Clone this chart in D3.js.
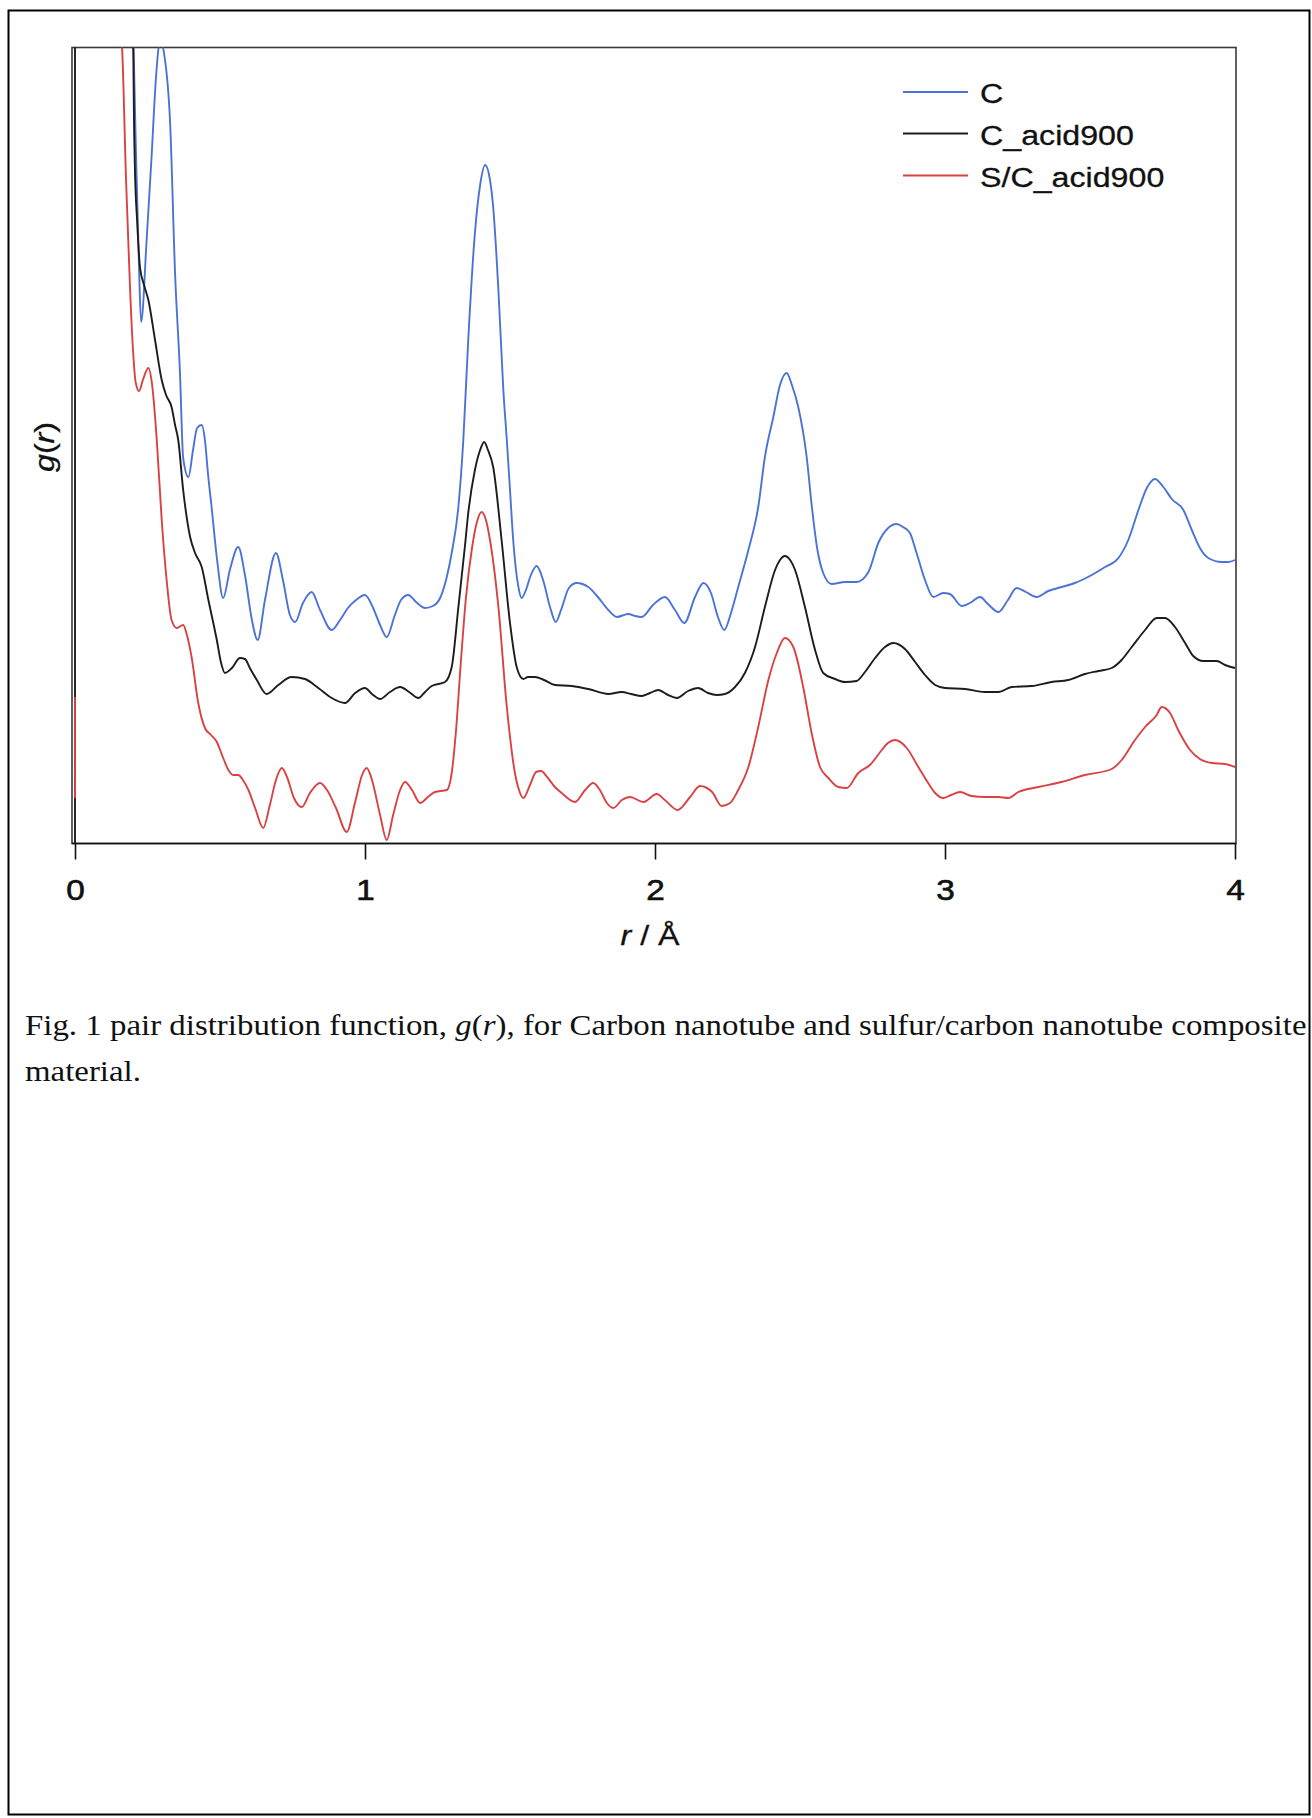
<!DOCTYPE html>
<html><head><meta charset="utf-8">
<script src="https://cdn.jsdelivr.net/npm/d3@7"></script>
<style>html,body{margin:0;padding:0;background:#fff;} svg{display:block;}</style>
</head><body>
<svg id="chart" width="1312" height="1818"></svg>
<script>
// ---- data ----
const tickValues = [0, 1, 2, 3, 4];
const seriesNames = ["C", "C_acid900", "S/C_acid900"];
const seriesColors = ["#4a72d8", "#1c1c1c", "#d94242"];

// C (blue)
const rC = [0.200,0.210,0.221,0.228,0.247,0.264,0.278,0.288,0.297,0.304,
0.328,0.345,0.362,0.373,0.391,0.407,0.421,0.437,0.448,0.459,
0.471,0.490,0.511,0.534,0.563,0.586,0.610,0.630,0.655,0.693,
0.717,0.741,0.759,0.786,0.816,0.845,0.885,0.914,0.941,0.969,
1.000,1.028,1.052,1.075,1.103,1.124,1.149,1.176,1.207,1.234,
1.259,1.282,1.299,1.322,1.339,1.356,1.379,1.397,1.414,1.431,
1.442,1.460,1.477,1.489,1.500,1.511,1.529,1.540,1.555,1.572,
1.592,1.614,1.638,1.658,1.676,1.703,1.730,1.770,1.803,1.839,
1.868,1.908,1.931,1.954,1.993,2.034,2.069,2.101,2.138,2.167,
2.193,2.217,2.239,2.262,2.287,2.322,2.356,2.379,2.408,2.431,
2.454,2.472,2.494,2.523,2.541,2.559,2.580,2.609,2.655,2.695,
2.736,2.770,2.804,2.833,2.855,2.879,2.902,2.931,2.960,2.994,
3.017,3.058,3.086,3.121,3.148,3.184,3.217,3.247,3.279,3.316,
3.356,3.402,3.448,3.506,3.552,3.598,3.632,3.667,3.696,3.724,
3.753,3.782,3.822,3.851,3.879,3.908,3.954,3.976,4.000];
const gC = [8.23,6.93,5.73,5.21,6.03,6.86,7.60,7.95,8.05,7.95,
7.20,5.70,4.70,3.85,3.66,3.93,4.15,4.18,4.03,3.68,
3.36,2.83,2.45,2.73,2.96,2.68,2.23,2.03,2.43,2.90,
2.63,2.28,2.21,2.40,2.51,2.33,2.13,2.23,2.35,2.43,
2.48,2.35,2.18,2.06,2.28,2.43,2.48,2.41,2.35,2.37,
2.45,2.66,2.90,3.36,4.03,5.03,6.10,6.58,6.78,6.63,
6.36,5.53,4.53,4.03,3.53,3.03,2.56,2.45,2.53,2.68,
2.77,2.63,2.36,2.21,2.33,2.55,2.60,2.56,2.46,2.33,
2.26,2.29,2.27,2.26,2.38,2.46,2.33,2.20,2.46,2.60,
2.50,2.26,2.13,2.30,2.56,2.93,3.36,3.86,4.26,4.58,
4.70,4.58,4.36,3.86,3.36,2.95,2.70,2.59,2.61,2.61,
2.71,3.00,3.15,3.19,3.16,3.10,2.90,2.63,2.46,2.50,
2.49,2.37,2.40,2.46,2.39,2.31,2.43,2.55,2.51,2.46,
2.52,2.56,2.60,2.68,2.76,2.85,3.03,3.33,3.55,3.64,
3.56,3.44,3.33,3.13,2.95,2.85,2.81,2.81,2.83];

// C_acid900 (black) — null marks a gap in the record
const rCa = [0, 0, null,
0.193,0.201,0.203,0.207,0.214,0.224,0.238,0.253,0.276,0.299,
0.314,0.333,0.345,0.356,0.373,0.397,0.414,0.437,0.460,0.489,
0.503,0.517,0.541,0.569,0.586,0.603,0.627,0.661,0.701,0.747,
0.793,0.839,0.885,0.931,0.966,1.000,1.024,1.052,1.086,1.121,
1.152,1.184,1.207,1.230,1.276,1.299,1.322,1.345,1.356,1.379,
1.397,1.411,1.424,1.442,1.471,1.500,1.523,1.546,1.562,1.586,
1.617,1.655,1.713,1.770,1.839,1.885,1.917,1.954,1.983,2.011,
2.045,2.075,2.114,2.149,2.183,2.213,2.241,2.276,2.310,2.345,
2.379,2.414,2.431,2.448,2.466,2.483,2.517,2.552,2.580,2.621,
2.655,2.695,2.724,2.759,2.793,2.822,2.862,2.897,2.931,2.966,
3.000,3.069,3.138,3.184,3.230,3.299,3.368,3.425,3.483,3.529,
3.575,3.609,3.644,3.690,3.730,3.759,3.793,3.828,3.856,3.891,
3.937,3.966,4.000];
const gCa = [0, 8.3, null,
8.23,7.91,7.33,6.70,6.23,5.76,5.58,5.43,5.03,4.63,
4.48,4.36,4.18,4.03,3.53,3.06,2.90,2.76,2.43,2.03,
1.81,1.70,1.75,1.85,1.84,1.75,1.63,1.49,1.58,1.66,
1.64,1.55,1.45,1.40,1.50,1.55,1.49,1.44,1.51,1.56,
1.51,1.45,1.51,1.57,1.61,1.76,2.36,2.98,3.30,3.73,
3.93,4.01,3.93,3.76,3.03,2.20,1.76,1.64,1.66,1.66,
1.63,1.58,1.57,1.54,1.49,1.51,1.49,1.47,1.50,1.53,
1.48,1.45,1.52,1.55,1.50,1.48,1.49,1.56,1.70,1.96,
2.36,2.73,2.83,2.87,2.83,2.73,2.36,1.93,1.70,1.64,
1.61,1.62,1.71,1.85,1.96,2.00,1.94,1.81,1.68,1.58,
1.55,1.54,1.51,1.51,1.56,1.57,1.61,1.63,1.69,1.72,
1.75,1.83,1.96,2.13,2.25,2.25,2.16,2.00,1.87,1.82,
1.82,1.78,1.75];

// S/C_acid900 (red)
const rSC = [0, 0, null,
0.155,0.163,0.176,0.190,0.200,0.209,0.221,0.234,0.253,0.266,
0.282,0.299,0.316,0.333,0.351,0.373,0.386,0.402,0.425,0.448,
0.469,0.489,0.507,0.529,0.545,0.563,0.579,0.598,0.621,0.649,
0.672,0.693,0.713,0.731,0.755,0.782,0.810,0.845,0.869,0.900,
0.937,0.966,0.990,1.006,1.024,1.052,1.075,1.097,1.121,1.138,
1.162,1.190,1.217,1.241,1.282,1.299,1.314,1.331,1.348,1.369,
1.386,1.402,1.417,1.431,1.460,1.489,1.517,1.531,1.546,1.569,
1.590,1.607,1.628,1.655,1.678,1.724,1.759,1.787,1.810,1.834,
1.856,1.886,1.914,1.960,2.006,2.034,2.078,2.121,2.155,2.197,
2.230,2.259,2.287,2.322,2.356,2.391,2.420,2.448,2.477,2.511,
2.540,2.569,2.598,2.632,2.661,2.701,2.741,2.782,2.803,2.828,
2.868,2.908,2.942,2.966,2.994,3.021,3.052,3.092,3.138,3.184,
3.218,3.253,3.322,3.402,3.483,3.575,3.609,3.655,3.690,3.730,
3.747,3.776,3.804,3.845,3.879,3.920,3.966,4.000];
const gSC = [0.45, 1.46, null,
8.23,7.91,6.63,5.53,4.93,4.61,4.52,4.63,4.75,4.58,
4.03,3.23,2.63,2.23,2.15,2.18,2.08,1.86,1.40,1.15,
1.08,1.01,0.88,0.73,0.68,0.68,0.63,0.53,0.35,0.15,
0.38,0.63,0.75,0.66,0.45,0.36,0.50,0.60,0.53,0.35,
0.11,0.41,0.68,0.75,0.63,0.28,0.03,0.28,0.53,0.61,
0.53,0.40,0.46,0.51,0.53,0.70,1.13,1.83,2.45,2.95,
3.21,3.31,3.23,3.03,2.36,1.36,0.70,0.53,0.45,0.58,
0.71,0.72,0.66,0.56,0.50,0.41,0.53,0.60,0.53,0.40,
0.35,0.43,0.46,0.41,0.49,0.43,0.33,0.46,0.57,0.51,
0.37,0.40,0.53,0.76,1.16,1.63,1.90,2.05,1.96,1.56,
1.10,0.76,0.65,0.56,0.55,0.70,0.78,0.93,1.00,1.03,
0.95,0.76,0.60,0.50,0.45,0.48,0.51,0.47,0.46,0.46,
0.45,0.51,0.56,0.61,0.68,0.74,0.83,1.03,1.16,1.28,
1.36,1.30,1.13,0.93,0.84,0.80,0.79,0.76];

const captionLine1 = ["Fig. 1 pair distribution function, ", {i:"g"}, "(", {i:"r"}, "), for Carbon nanotube and sulfur/carbon nanotube composite"];
const captionLine2 = ["material."];

// ---- drawing ----
const svg = d3.select("#chart");
const sansFont = "'Liberation Sans', Arial, Helvetica, sans-serif";
const serifFont = "'Liberation Serif', 'Times New Roman', serif";
const stretch = 1.15;

// outer page border
svg.append("rect").attr("x", 8.5).attr("y", 10.5).attr("width", 1301).attr("height", 1804)
  .attr("fill", "none").attr("stroke", "#000").attr("stroke-width", 2);

const frame = {left: 72, right: 1236, top: 47.5, bottom: 843.5};
const x = d3.scaleLinear().domain([0, 4]).range([75, 1235]);
const y = d3.scaleLinear().domain([0, 7.95]).range([843, 48]);

svg.append("defs").append("clipPath").attr("id", "plotclip")
  .append("rect").attr("x", frame.left).attr("y", frame.top)
  .attr("width", frame.right - frame.left).attr("height", frame.bottom - frame.top);

const toPts = (r, g) => r.map((v, i) => ({r: v, g: g[i]}));
const series = [toPts(rC, gC), toPts(rCa, gCa), toPts(rSC, gSC)];

const line = d3.line()
  .defined(d => d.g !== null && d.r !== null)
  .x(d => x(d.r)).y(d => y(d.g))
  .curve(d3.curveMonotoneX);

// frame (top/right/left lines)
svg.append("rect").attr("x", frame.left).attr("y", frame.top)
  .attr("width", frame.right - frame.left).attr("height", frame.bottom - frame.top)
  .attr("fill", "none").attr("stroke", "#3a3a3a").attr("stroke-width", 1.6);

const plot = svg.append("g").attr("clip-path", "url(#plotclip)");
series.forEach((s, i) => {
  plot.append("path").datum(s).attr("d", line)
    .attr("fill", "none").attr("stroke", seriesColors[i])
    .attr("stroke-width", 1.9).attr("stroke-linejoin", "round");
});

// bottom axis
const xAxis = d3.axisBottom(x).tickValues(tickValues).tickSize(16).tickPadding(20)
  .tickFormat(d3.format("d"));
const ax = svg.append("g").attr("transform", `translate(0,${frame.bottom})`).call(xAxis);
ax.select(".domain").attr("d", `M${frame.left},0H${frame.right}`).attr("stroke", "#111").attr("stroke-width", 1.6);
ax.selectAll(".tick line").attr("stroke", "#111").attr("stroke-width", 1.6);
ax.selectAll(".tick text").attr("font-family", sansFont).attr("font-size", 29)
  .attr("fill", "#111").attr("stroke", "#111").attr("stroke-width", 0.6)
  .attr("transform", `scale(${stretch},1)`);

// x-axis title
const xt = svg.append("text").attr("font-family", sansFont).attr("font-size", 28)
  .attr("text-anchor", "middle").attr("fill", "#111").attr("stroke", "#111").attr("stroke-width", 0.3)
  .attr("transform", `translate(650,945) scale(${stretch},1)`);
xt.append("tspan").attr("font-style", "italic").text("r");
xt.append("tspan").text(" / Å");

// y-axis title
const yt = svg.append("text").attr("font-family", sansFont).attr("font-size", 28)
  .attr("text-anchor", "middle").attr("fill", "#111").attr("stroke", "#111").attr("stroke-width", 0.3)
  .attr("transform", `translate(54,447) rotate(-90) scale(${stretch},1)`);
yt.append("tspan").attr("font-style", "italic").text("g");
yt.append("tspan").text("(");
yt.append("tspan").attr("font-style", "italic").text("r");
yt.append("tspan").text(")");

// legend
const legendRows = [92, 133.5, 175.5];
seriesNames.forEach((name, i) => {
  svg.append("line").attr("x1", 903).attr("x2", 968)
    .attr("y1", legendRows[i]).attr("y2", legendRows[i])
    .attr("stroke", seriesColors[i]).attr("stroke-width", 1.9);
  svg.append("text").attr("font-family", sansFont).attr("font-size", 28).attr("fill", "#111")
    .attr("stroke", "#111").attr("stroke-width", 0.3)
    .attr("transform", `translate(980,${legendRows[i] + 11}) scale(${stretch},1)`)
    .text(name);
});

// caption
function addCaption(parts) {
  const t = svg.append("text").attr("font-family", serifFont).attr("font-size", 29)
    .attr("fill", "#111").attr("x", 0).attr("y", 0);
  parts.forEach(p => {
    if (typeof p === "string") t.append("tspan").text(p);
    else t.append("tspan").attr("font-style", "italic").text(p.i);
  });
  return t;
}
const c1 = addCaption(captionLine1);
const c2 = addCaption(captionLine2);
const natural = c1.node().getComputedTextLength();
const f = (1307 - 25) / natural;
c1.attr("transform", `translate(25,1035) scale(${f},1)`);
c2.attr("transform", `translate(25,1081) scale(${f},1)`);
</script>
</body></html>
